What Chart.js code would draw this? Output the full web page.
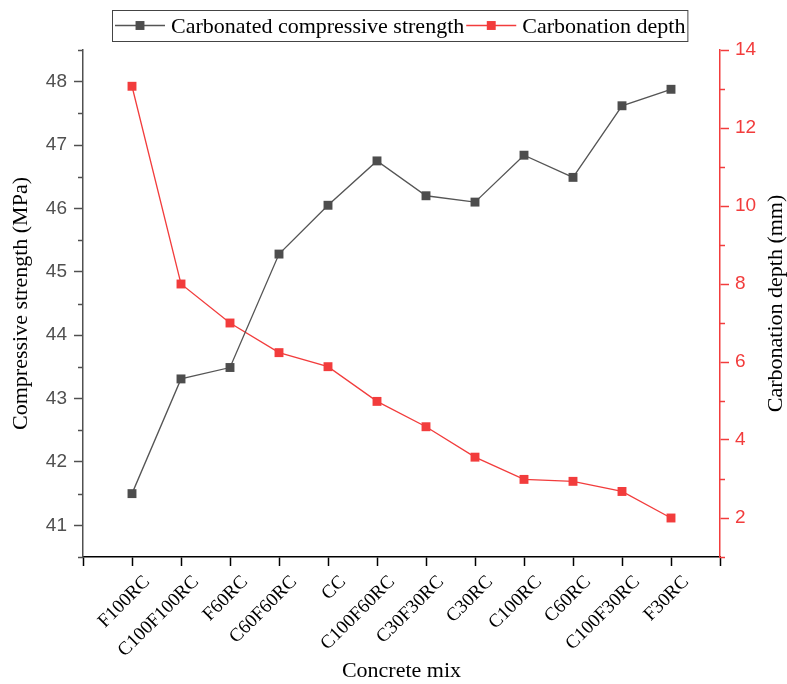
<!DOCTYPE html>
<html><head><meta charset="utf-8">
<script src="https://cdn.jsdelivr.net/npm/chart.js@4.4.1/dist/chart.umd.min.js"></script>
<style>html,body{margin:0;padding:0;background:#fff;} canvas{display:block;}</style>
</head><body>
<canvas id="c" width="787" height="684"></canvas>
<script>
const categories = ['F100RC','C100F100RC','F60RC','C60F60RC','CC','C100F60RC','C30F30RC','C30RC','C100RC','C60RC','C100F30RC','F30RC'];
const compressiveStrength = [41.50,43.31,43.49,45.28,46.05,46.75,46.20,46.10,46.84,46.49,47.62,47.88];
const carbonationDepth = [13.07,8.00,7.00,6.24,5.88,4.99,4.34,3.56,2.99,2.94,2.68,2.00];
const leftTicks = [41,42,43,44,45,46,47,48];
const leftMinorTicks = [40.5,41.5,42.5,43.5,44.5,45.5,46.5,47.5,48.5];
const rightTicks = [2,4,6,8,10,12,14];
const rightMinorTicks = [1,3,5,7,9,11,13];
const xTickPositions = [-1].concat(categories.map((c,i)=>i), [categories.length]);

const SERIF = '"Liberation Serif", "Times New Roman", serif';
const SANS = '"Liberation Sans", Arial, sans-serif';
const GREY = '#505050';
const RED = '#f23c3c';

const whiteBg = {
  id: 'whiteBg',
  beforeDraw(chart) {
    const ctx = chart.ctx; ctx.save(); ctx.fillStyle = '#fff';
    ctx.fillRect(0,0,chart.width,chart.height); ctx.restore();
  }
};

const minorTicks = {
  id: 'minorTicks',
  afterDraw(chart) {
    const ctx = chart.ctx;
    const yl = chart.scales.y, yr = chart.scales.y1;
    ctx.save();
    ctx.lineWidth = 1.5;
    ctx.strokeStyle = GREY;
    leftMinorTicks.forEach(v => {
      const p = Math.round(yl.getPixelForValue(v)) + 0.5;
      ctx.beginPath(); ctx.moveTo(yl.right - 5, p); ctx.lineTo(yl.right, p); ctx.stroke();
    });
    ctx.strokeStyle = RED;
    rightMinorTicks.forEach(v => {
      const p = Math.round(yr.getPixelForValue(v)) + 0.5;
      ctx.beginPath(); ctx.moveTo(yr.left, p); ctx.lineTo(yr.left + 5, p); ctx.stroke();
    });
    ctx.restore();
  }
};

const rightTitle = {
  id: 'rightTitle',
  afterDraw(chart) {
    const ctx = chart.ctx, ca = chart.chartArea;
    ctx.save();
    ctx.translate(776, (ca.top + ca.bottom) / 2);
    ctx.rotate(-Math.PI / 2);
    ctx.font = '22px ' + SERIF;
    ctx.fillStyle = '#000';
    ctx.textAlign = 'center';
    ctx.textBaseline = 'middle';
    ctx.fillText('Carbonation depth (mm)', 0, 0);
    ctx.restore();
  }
};

const legendBox = {
  id: 'legendBox',
  afterDraw(chart) {
    const ctx = chart.ctx, ca = chart.chartArea;
    ctx.save();
    ctx.font = '22px ' + SERIF;
    const items = chart.data.datasets.map(ds => ({
      text: ds.label, color: ds.borderColor, pcolor: ds.pointBackgroundColor,
      r: ds.pointRadius, w: ctx.measureText(ds.label).width
    }));
    const lineLen = 50, gap = 6, padL = 3, padR = 2, between = 2;
    let total = padL + padR;
    items.forEach((it, i) => { total += lineLen + gap + it.w + (i ? between : 0); });
    const x0 = Math.round((ca.left + ca.right) / 2 - 2 - total / 2);
    const top = 10, bottom = 41, cy = 25.5;
    ctx.strokeStyle = '#444'; ctx.lineWidth = 1;
    ctx.strokeRect(x0 + 0.5, top + 0.5, total, bottom - top);
    let cur = x0 + padL;
    items.forEach((it, i) => {
      if (i) cur += between;
      ctx.strokeStyle = it.color; ctx.lineWidth = 1.3;
      ctx.beginPath(); ctx.moveTo(cur, cy); ctx.lineTo(cur + lineLen, cy); ctx.stroke();
      const s = Math.SQRT1_2 * it.r;
      ctx.fillStyle = it.pcolor;
      ctx.fillRect(cur + lineLen / 2 - s, cy - s, 2 * s, 2 * s);
      ctx.fillStyle = '#000';
      ctx.textBaseline = 'alphabetic';
      ctx.textAlign = 'left';
      ctx.fillText(it.text, cur + lineLen + gap, 33);
      cur += lineLen + gap + it.w;
    });
    ctx.restore();
  }
};

new Chart(document.getElementById('c'), {
  type: 'line',
  data: {
    datasets: [
      {
        label: 'Carbonated compressive strength',
        data: categories.map((c, i) => ({x: i, y: compressiveStrength[i]})),
        yAxisID: 'y',
        borderColor: '#555555',
        backgroundColor: '#4d4d4d',
        pointBackgroundColor: '#4d4d4d',
        pointBorderWidth: 0,
        pointStyle: 'rect',
        pointRadius: 6.3,
        borderWidth: 1.3,
        tension: 0
      },
      {
        label: 'Carbonation depth',
        data: categories.map((c, i) => ({x: i, y: carbonationDepth[i]})),
        yAxisID: 'y1',
        borderColor: RED,
        backgroundColor: RED,
        pointBackgroundColor: RED,
        pointBorderWidth: 0,
        pointStyle: 'rect',
        pointRadius: 6.3,
        borderWidth: 1.3,
        tension: 0
      }
    ]
  },
  options: {
    responsive: false,
    animation: false,
    events: [],
    layout: { padding: { top: 50, left: 0, right: 0, bottom: 0 } },
    plugins: { legend: { display: false }, tooltip: { enabled: false } },
    scales: {
      x: {
        type: 'linear',
        position: 'bottom',
        min: -1, max: categories.length,
        afterBuildTicks: s => { s.ticks = xTickPositions.map(v => ({value: v})); },
        afterFit: s => { s.height = 127; },
        border: { display: true, color: '#000', width: 1.5 },
        grid: { display: true, drawOnChartArea: false, drawTicks: true, tickLength: 9, tickColor: '#000', tickWidth: 1.5 },
        ticks: {
          autoSkip: false, minRotation: 45, maxRotation: 45,
          padding: 5, labelOffset: 15,
          color: '#000',
          font: { family: SERIF, size: 19 },
          callback: v => (categories[v] !== undefined ? categories[v] : '')
        },
        title: { display: true, text: 'Concrete mix', color: '#000', font: { family: SERIF, size: 22 }, padding: { top: 0, bottom: 0 } }
      },
      y: {
        type: 'linear',
        position: 'left',
        min: 40.5, max: 48.5,
        afterBuildTicks: s => { s.ticks = leftTicks.map(v => ({value: v})); },
        afterFit: s => { s.width = 83; },
        border: { display: true, color: GREY, width: 1.5 },
        grid: { display: true, drawOnChartArea: false, drawTicks: true, tickLength: 9, tickColor: GREY, tickWidth: 1.5 },
        ticks: { padding: 7, color: GREY, font: { family: SANS, size: 19 } },
        title: { display: true, text: 'Compressive strength (MPa)', color: '#000', font: { family: SERIF, size: 22 }, padding: { top: 8, bottom: 0 } }
      },
      y1: {
        type: 'linear',
        position: 'right',
        min: 1, max: 14,
        afterBuildTicks: s => { s.ticks = rightTicks.map(v => ({value: v})); },
        afterFit: s => { s.width = 67; },
        border: { display: true, color: RED, width: 1.5 },
        grid: { display: true, drawOnChartArea: false, drawTicks: true, tickLength: 9, tickColor: RED, tickWidth: 1.5 },
        ticks: { padding: 6, color: RED, font: { family: SANS, size: 19 } },
        title: { display: false }
      }
    }
  },
  plugins: [whiteBg, minorTicks, rightTitle, legendBox]
});
</script>
</body></html>
